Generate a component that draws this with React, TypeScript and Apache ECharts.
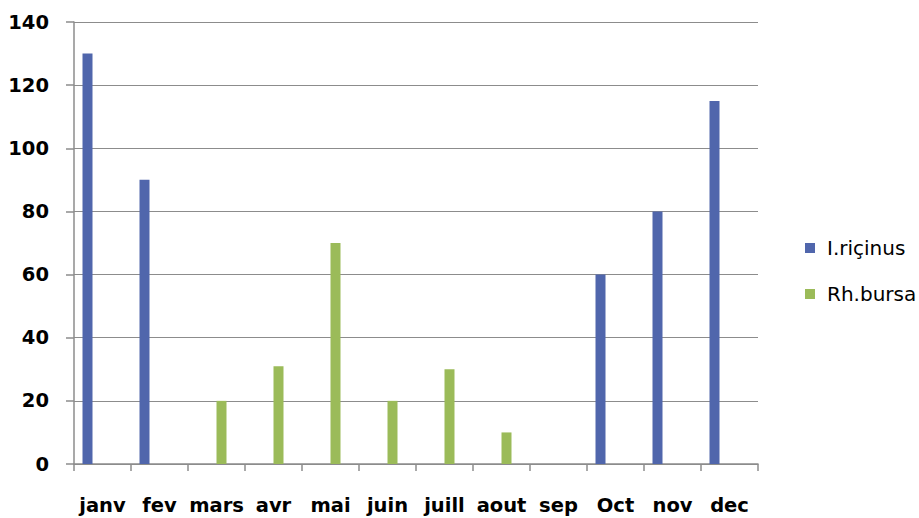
import React, { useEffect, useRef } from "react";
import * as echarts from "echarts";

const categories = ["janv", "fev", "mars", "avr", "mai", "juin", "juill", "aout", "sep", "Oct", "nov", "dec"];
const ricinus = [130, 90, null, null, null, null, null, null, null, 60, 80, 115];
const bursa = [null, null, 20, 31, 70, 20, 30, 10, null, null, null, null];
const yTicks = { min: 0, max: 140, interval: 20 };

export default function App() {
  const ref = useRef<HTMLDivElement>(null);
  useEffect(() => {
    if (!ref.current) return;
    const chart = echarts.init(ref.current, null, { renderer: "svg" });
    const labelFont = { fontFamily: "DejaVu Sans", fontWeight: "bold" as const, fontSize: 19.5, color: "#000" };
    chart.setOption({
      animation: false,
      backgroundColor: "#fff",
      grid: { left: 74, right: 161, top: 22, bottom: 54, containLabel: false },
      legend: {
        data: ["I.riçinus", "Rh.bursa"],
        orient: "vertical",
        left: 800,
        top: 233,
        itemWidth: 10,
        itemHeight: 10,
        itemGap: 26,
        icon: "rect",
        textStyle: { fontFamily: "DejaVu Sans", fontSize: 20, color: "#000", lineHeight: 20, padding: [0, 0, 0, 7] },
      },
      xAxis: {
        type: "category",
        data: categories,
        boundaryGap: true,
        axisLine: { show: true, lineStyle: { color: "#8c8c8c", width: 1.5 } },
        axisTick: { show: true, length: 7, alignWithLabel: false, lineStyle: { color: "#8c8c8c", width: 1.5 } },
        axisLabel: { ...labelFont, interval: 0, margin: 31 },
      },
      yAxis: {
        type: "value",
        min: yTicks.min,
        max: yTicks.max,
        interval: yTicks.interval,
        axisLine: { show: true, lineStyle: { color: "#8c8c8c", width: 1.5 } },
        axisTick: { show: true, length: 8, lineStyle: { color: "#8c8c8c", width: 1.5 } },
        splitLine: { show: true, lineStyle: { color: "#8c8c8c", width: 1.2 } },
        axisLabel: { ...labelFont, margin: 25 },
      },
      series: [
        { name: "I.riçinus", type: "bar", data: ricinus, barWidth: 10, barGap: "0%", itemStyle: { color: "#5066AC" } },
        { name: "_gap1", type: "bar", data: [], barWidth: 10, barGap: "0%" },
        { name: "Rh.bursa", type: "bar", data: bursa, barWidth: 10, barGap: "0%", itemStyle: { color: "#9BBB59" } },
        { name: "_gap2", type: "bar", data: [], barWidth: 10, barGap: "0%" },
      ],
    });
    return () => chart.dispose();
  }, []);
  return <div ref={ref} style={{ position: "fixed", left: 0, top: 0, width: 919, height: 518 }} />;
}
